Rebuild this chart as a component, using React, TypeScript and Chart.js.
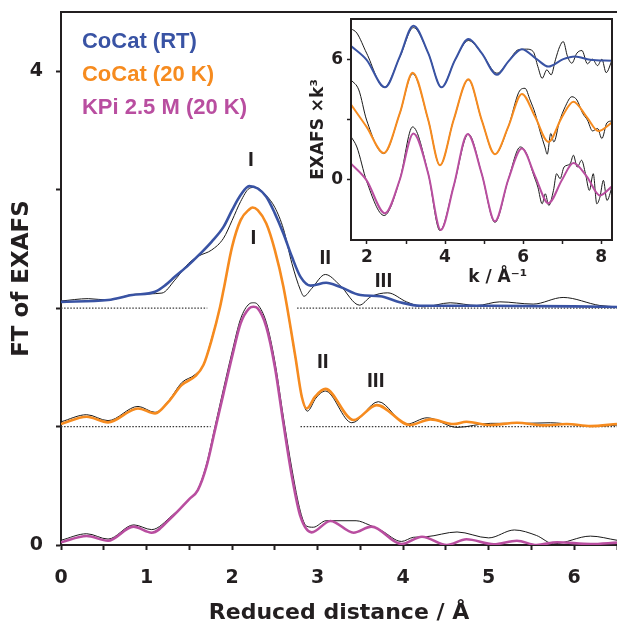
import React, { useEffect, useRef } from 'react';
import { Chart, registerables } from 'chart.js';

Chart.register(...registerables);

type Pair = [number, number];

// ---------- Main panel: FT of EXAFS vs reduced distance (raw, unshifted) ----------
const mainOffsets = { rt: 2, k20: 1, kpi: 0 };

const rtFit: Pair[] = [
  [0, 0.053], [0.55, 0.068], [0.83, 0.11], [1.1, 0.138], [1.22, 0.194], [1.33, 0.264],
  [1.49, 0.363], [1.61, 0.447], [1.76, 0.56], [1.9, 0.686], [2.0, 0.827], [2.1, 0.954],
  [2.2, 1.03], [2.3, 1.01], [2.4, 0.94], [2.5, 0.8], [2.6, 0.63], [2.7, 0.433], [2.8, 0.264],
  [2.92, 0.19], [3.1, 0.214], [3.26, 0.18], [3.5, 0.11], [3.73, 0.1], [3.96, 0.05], [4.2, 0.02],
  [5.0, 0.02], [6.0, 0.015], [6.5, 0.01],
];
const rtData: Pair[] = [
  [0, 0.06], [0.32, 0.08], [0.55, 0.068], [0.87, 0.118], [1.18, 0.127], [1.33, 0.236],
  [1.49, 0.377], [1.61, 0.44], [1.76, 0.49], [1.9, 0.59], [2.0, 0.74], [2.1, 0.9], [2.2, 1.01],
  [2.27, 1.02], [2.4, 0.95], [2.5, 0.85], [2.6, 0.67], [2.7, 0.376], [2.8, 0.151], [2.84, 0.1],
  [2.93, 0.165], [3.09, 0.284], [3.26, 0.194], [3.49, 0.025], [3.62, 0.095], [3.82, 0.129],
  [4.04, 0.053], [4.24, 0.011], [4.55, 0.045], [4.86, 0.022], [5.13, 0.053], [5.52, 0.034],
  [5.87, 0.09], [6.3, 0.022], [6.5, 0.011],
];
const k20Fit: Pair[] = [
  [0, 0.021], [0.3, 0.083], [0.55, 0.035], [0.9, 0.153], [1.1, 0.111], [1.255, 0.209],
  [1.41, 0.35], [1.57, 0.426], [1.665, 0.519], [1.76, 0.73], [1.86, 1.011], [1.9, 1.152],
  [2.0, 1.517], [2.1, 1.743], [2.2, 1.833], [2.24, 1.85], [2.3, 1.827], [2.4, 1.714], [2.5, 1.49],
  [2.6, 1.18], [2.74, 0.589], [2.815, 0.252], [2.873, 0.153], [2.97, 0.252], [3.09, 0.318],
  [3.42, 0.055], [3.69, 0.181], [4.08, 0.013], [4.32, 0.061], [4.59, 0.021], [4.74, 0.04],
  [5.02, 0.013], [5.33, 0.032], [5.64, 0.01], [5.91, 0.021], [6.19, 0.004], [6.5, 0.021],
];
const k20Data: Pair[] = [
  [0, 0.04], [0.3, 0.1], [0.55, 0.05], [0.9, 0.17], [1.1, 0.12], [1.26, 0.22], [1.41, 0.37],
  [1.57, 0.44], [1.67, 0.53], [1.76, 0.74], [1.86, 1.01], [1.9, 1.15], [2.0, 1.517], [2.1, 1.743],
  [2.2, 1.833], [2.24, 1.85], [2.3, 1.827], [2.4, 1.714], [2.5, 1.49], [2.6, 1.18], [2.74, 0.58],
  [2.82, 0.24], [2.88, 0.13], [2.98, 0.24], [3.09, 0.3], [3.4, 0.032], [3.71, 0.21], [4.04, 0.02],
  [4.28, 0.074], [4.63, -0.007], [5.02, 0.027], [5.41, 0.027], [5.72, 0.032], [6.0, 0.015],
  [6.19, 0.0], [6.5, 0.013],
];
const kpiFit: Pair[] = [
  [0, 0.023], [0.3, 0.076], [0.55, 0.036], [0.846, 0.155], [1.06, 0.104], [1.3, 0.239],
  [1.497, 0.386], [1.6, 0.464], [1.7, 0.661], [1.8, 0.97], [1.9, 1.28], [2.0, 1.589], [2.1, 1.871],
  [2.2, 1.997], [2.25, 2.011], [2.3, 1.997], [2.4, 1.842], [2.5, 1.505], [2.6, 1.027], [2.7, 0.577],
  [2.8, 0.239], [2.93, 0.107], [3.15, 0.203], [3.42, 0.104], [3.63, 0.155], [3.98, 0.008],
  [4.22, 0.07], [4.51, 0.0], [4.74, 0.048], [5.06, 0.006], [5.33, 0.036], [5.56, 0.0], [5.8, 0.023],
  [6.19, 0.008], [6.5, 0.02],
];
const kpiData: Pair[] = [
  [0, 0.04], [0.3, 0.095], [0.55, 0.05], [0.85, 0.17], [1.06, 0.13], [1.3, 0.25], [1.5, 0.39],
  [1.6, 0.47], [1.7, 0.68], [1.8, 1.0], [1.9, 1.32], [2.0, 1.63], [2.1, 1.91], [2.2, 2.035],
  [2.25, 2.045], [2.3, 2.03], [2.4, 1.88], [2.5, 1.55], [2.6, 1.08], [2.7, 0.64], [2.8, 0.28],
  [2.87, 0.16], [2.95, 0.15], [3.1, 0.205], [3.45, 0.205], [3.6, 0.17], [3.75, 0.12], [3.98, 0.03],
  [4.12, 0.065], [4.27, 0.07], [4.63, 0.11], [5.0, 0.06], [5.3, 0.127], [5.56, 0.08], [5.76, 0.01],
  [6.19, 0.075], [6.5, 0.04],
];

// baseline (dotted) segments: [from, to] in reduced distance
const rtBaseline: Pair[] = [[0, 1.71], [2.76, 6.5]];
const k20Baseline: Pair[] = [[0, 1.75], [2.8, 6.5]];

// main axis ticks
const mainXTicks = [0, 0.5, 1, 1.5, 2, 2.5, 3, 3.5, 4, 4.5, 5, 5.5, 6, 6.5];
const mainXLabels = [0, 1, 2, 3, 4, 5, 6];
const mainYTicks = [0, 1, 2, 3, 4];
const mainYLabels = [0, 4];

// legend + peak labels
const seriesNames = ['CoCat (RT)', 'CoCat (20 K)', 'KPi 2.5 M (20 K)'];
const seriesColors = ['#3953a4', '#f68b1f', '#b94ea0'];
const peakText = ['I', 'II', 'III', 'I', 'II', 'III'];
const peakR = [2.22, 3.09, 3.77, 2.25, 3.06, 3.68];
const peakY = [3.25, 2.42, 2.23, 2.59, 1.54, 1.38];

// ---------- Inset: EXAFS x k^3 vs k (raw, unshifted) ----------
const insetOffsets = { rt: 6, k20: 3, kpi: 0 };

const kRtFit: Pair[] = [
  [1.59, 0.66], [1.99, -0.03], [2.46, -1.4], [2.84, 0.13], [3.19, 1.67], [3.57, 0.3], [3.91, -1.4],
  [4.26, -0.03], [4.6, 1.0], [4.94, 0.3], [5.33, -0.78], [5.62, -0.12], [5.97, 0.5], [6.35, 0.0],
  [6.65, -0.37], [7.03, 0.0], [7.33, 0.13], [7.72, -0.03], [8.28, -0.08],
];
const kRtData: Pair[] = [
  [1.59, 1.52], [1.74, 1.3], [1.99, 0.3], [2.44, -1.4], [2.84, 0.1], [3.19, 1.57], [3.57, 0.3],
  [3.91, -1.4], [4.26, -0.03], [4.6, 0.93], [4.94, 0.3], [5.33, -0.7], [5.62, -0.12], [5.88, 0.47],
  [6.09, 0.5], [6.26, 0.38], [6.38, -0.37], [6.49, -0.95], [6.61, -0.53], [6.72, -0.78],
  [6.83, -0.03], [6.94, 0.63], [7.03, 0.88], [7.14, 0.13], [7.25, -0.2], [7.38, 0.3], [7.51, 0.43],
  [7.65, -0.23], [7.78, 0.0], [7.91, -0.32], [8.02, 0.0], [8.13, -0.67], [8.28, -0.05],
];
const kK20Fit: Pair[] = [
  [1.59, 0.74], [1.99, -0.37], [2.43, -1.67], [2.84, 0.3], [3.17, 2.33], [3.57, -0.03], [3.87, -2.28],
  [4.22, -0.03], [4.6, 2.0], [4.94, -0.03], [5.28, -1.73], [5.62, -0.37], [5.97, 1.27], [6.31, 0.13],
  [6.65, -1.12], [7.0, 0.13], [7.29, 0.88], [7.63, 0.13], [7.93, -0.58], [8.28, -0.15],
];
const kK20Data: Pair[] = [
  [1.59, 1.97], [1.79, 1.47], [1.99, -0.03], [2.43, -1.7], [2.84, 0.3], [3.17, 2.27], [3.57, -0.03],
  [3.87, -2.28], [4.22, -0.03], [4.6, 1.97], [4.94, -0.03], [5.28, -1.73], [5.62, -0.37], [5.93, 1.47],
  [6.05, 1.55], [6.18, 0.97], [6.31, 0.3], [6.44, -0.62], [6.56, -1.37], [6.62, -1.73], [6.71, -0.7],
  [6.79, -1.12], [6.93, -0.12], [7.08, 0.63], [7.25, 1.13], [7.38, 0.97], [7.53, 0.3], [7.65, -0.03],
  [7.78, -0.57], [7.91, -0.45], [8.02, -0.95], [8.15, -0.17], [8.28, -0.07],
];
const kKpiFit: Pair[] = [
  [1.59, 0.8], [1.99, -0.03], [2.46, -1.67], [2.84, 0.0], [3.19, 2.3], [3.57, 0.3], [3.89, -2.5],
  [4.22, -0.33], [4.58, 2.27], [4.94, 0.3], [5.28, -2.07], [5.62, 0.0], [5.97, 1.55], [6.31, 0.17],
  [6.65, -1.17], [7.0, 0.0], [7.29, 0.83], [7.63, 0.17], [7.97, -0.78], [8.28, -0.33],
];
const kKpiData: Pair[] = [
  [1.59, 2.15], [1.74, 1.63], [1.99, -0.07], [2.44, -1.78], [2.84, 0.0], [3.17, 2.63], [3.57, 0.3],
  [3.87, -2.53], [4.22, -0.33], [4.6, 2.27], [4.94, 0.3], [5.28, -2.12], [5.62, 0.0], [5.93, 1.63],
  [6.09, 1.3], [6.26, 0.3], [6.38, -0.37], [6.49, -1.2], [6.57, -0.7], [6.66, -1.28], [6.78, -0.53],
  [6.86, 0.3], [6.95, 0.05], [7.05, 0.63], [7.21, 0.8], [7.29, 1.22], [7.39, 0.63], [7.5, 0.97],
  [7.6, 0.3], [7.7, -0.53], [7.8, 0.3], [7.89, -1.2], [7.97, -0.87], [8.06, -0.03], [8.15, -1.03],
  [8.28, -0.37],
];

const insetXTicks = [2, 3, 4, 5, 6, 7, 8];
const insetXLabels = [2, 4, 6, 8];
const insetYTicks = [0, 3, 6];
const insetYLabels = [0, 6];

// ---------- helpers ----------
const INK = '#231f20';
const SANS = "'DejaVu Sans', sans-serif";
const HELV = "'Liberation Sans', Arial, sans-serif";

const shift = (pts: Pair[], off: number) => pts.map(([x, y]) => ({ x, y: y + off }));

const lineDs = (label: string, pts: Pair[], off: number, color: string, width: number, order: number) => ({
  label,
  data: shift(pts, off),
  borderColor: color,
  borderWidth: width,
  pointRadius: 0,
  fill: false,
  cubicInterpolationMode: 'monotone' as const,
  order,
});

const dottedDs = (segs: Pair[], level: number) =>
  segs.map(([a, b]) => ({
    label: 'baseline',
    data: [{ x: a, y: level }, { x: b, y: level }],
    borderColor: '#3a3a3a',
    borderWidth: 1.3,
    borderDash: [1.5, 1.6],
    pointRadius: 0,
    fill: false,
    order: 3,
  }));

const setTicks = (values: number[]) => (s: any) => {
  s.ticks = values.map((value) => ({ value }));
};
const fixSize = (prop: 'width' | 'height', size: number) => (s: any) => {
  s[prop] = size;
  s.paddingTop = 0;
  s.paddingBottom = 0;
  s.paddingLeft = 0;
  s.paddingRight = 0;
};

const mainDecor = {
  id: 'mainDecor',
  afterDraw(chart: any) {
    const { ctx, chartArea, scales } = chart;
    ctx.save();
    // top frame line
    ctx.strokeStyle = INK;
    ctx.lineWidth = 2;
    ctx.beginPath();
    ctx.moveTo(chartArea.left - 1, chartArea.top);
    ctx.lineTo(chartArea.right, chartArea.top);
    ctx.stroke();
    // legend text
    ctx.font = `bold 22px ${HELV}`;
    ctx.textAlign = 'left';
    ctx.textBaseline = 'alphabetic';
    const legendX = scales.x.getPixelForValue(0.245);
    seriesNames.forEach((name, i) => {
      ctx.fillStyle = seriesColors[i];
      ctx.fillText(name, legendX, scales.y.getPixelForValue(4.193 - i * 0.275));
    });
    // peak labels
    ctx.fillStyle = INK;
    ctx.font = `bold 21px ${HELV}`;
    ctx.textAlign = 'center';
    ctx.textBaseline = 'middle';
    peakText.forEach((t, i) => {
      ctx.fillText(t, scales.x.getPixelForValue(peakR[i]), scales.y.getPixelForValue(peakY[i]));
    });
    ctx.restore();
  },
};

const insetDecor = {
  id: 'insetDecor',
  beforeDatasetsDraw(chart: any) {
    const { ctx, chartArea } = chart;
    ctx.save();
    ctx.fillStyle = '#ffffff';
    ctx.fillRect(chartArea.left, chartArea.top, chartArea.right - chartArea.left, chartArea.bottom - chartArea.top);
    ctx.restore();
  },
  afterDraw(chart: any) {
    const { ctx, chartArea, scales } = chart;
    ctx.save();
    ctx.strokeStyle = INK;
    ctx.lineWidth = 2;
    ctx.strokeRect(chartArea.left, chartArea.top, chartArea.right - chartArea.left, chartArea.bottom - chartArea.top);
    ctx.fillStyle = INK;
    ctx.font = `bold 17px ${SANS}`;
    ctx.textAlign = 'center';
    ctx.textBaseline = 'middle';
    ctx.fillText('k / Å⁻¹', scales.x.getPixelForValue(5.35), chartArea.bottom + 38);
    ctx.restore();
  },
};

function MainChart() {
  const ref = useRef<HTMLCanvasElement>(null);
  useEffect(() => {
    if (!ref.current) return;
    const datasets: any[] = [
      lineDs(seriesNames[0], rtFit, mainOffsets.rt, seriesColors[0], 2.6, 0),
      lineDs(seriesNames[1], k20Fit, mainOffsets.k20, seriesColors[1], 2.6, 0),
      lineDs(seriesNames[2], kpiFit, mainOffsets.kpi, seriesColors[2], 2.6, 0),
      lineDs('RT data', rtData, mainOffsets.rt, '#1a1a1a', 1, 1),
      lineDs('20 K data', k20Data, mainOffsets.k20, '#1a1a1a', 1, 1),
      lineDs('KPi data', kpiData, mainOffsets.kpi, '#1a1a1a', 1, 1),
      ...dottedDs(rtBaseline, mainOffsets.rt),
      ...dottedDs(k20Baseline, mainOffsets.k20),
    ];
    const chart = new Chart(ref.current, {
      type: 'line',
      data: { datasets },
      plugins: [mainDecor],
      options: {
        responsive: false,
        animation: false,
        layout: { padding: { top: 12, right: 0, left: 0, bottom: 0 } },
        plugins: { legend: { display: false }, tooltip: { enabled: false } },
        scales: {
          x: {
            type: 'linear',
            min: 0,
            max: 6.5,
            afterBuildTicks: setTicks(mainXTicks),
            afterFit: fixSize('height', 80),
            ticks: {
              autoSkip: false,
              maxRotation: 0,
              padding: 17,
              color: INK,
              font: { family: SANS, size: 19, weight: 'bold' },
              callback: (v: any) => (mainXLabels.includes(Number(v)) ? String(v) : ''),
            },
            grid: { drawOnChartArea: false, drawTicks: true, tickLength: 5, tickColor: INK, tickWidth: 2 },
            border: { display: true, color: INK, width: 2 },
            title: {
              display: true,
              text: 'Reduced distance / Å',
              color: INK,
              font: { family: SANS, size: 22, weight: 'bold', lineHeight: 1 },
              padding: { top: 0, bottom: 0.5 },
            },
          },
          y: {
            type: 'linear',
            min: 0,
            max: 4.5,
            afterBuildTicks: setTicks(mainYTicks),
            afterFit: fixSize('width', 61),
            ticks: {
              autoSkip: false,
              padding: 13,
              color: INK,
              font: { family: SANS, size: 19, weight: 'bold' },
              callback: (v: any) => (mainYLabels.includes(Number(v)) ? String(v) : ''),
            },
            grid: { drawOnChartArea: false, drawTicks: true, tickLength: 5, tickColor: INK, tickWidth: 2 },
            border: { display: true, color: INK, width: 2 },
            title: {
              display: true,
              text: 'FT of EXAFS',
              color: INK,
              font: { family: SANS, size: 23, weight: 'bold', lineHeight: 1.2 },
              padding: { top: 8, bottom: 0 },
            },
          },
        },
      } as any,
    });
    return () => chart.destroy();
  }, []);
  return <canvas ref={ref} width={617} height={625} style={{ position: 'absolute', left: 0, top: 0 }} />;
}

function InsetChart() {
  const ref = useRef<HTMLCanvasElement>(null);
  useEffect(() => {
    if (!ref.current) return;
    const datasets: any[] = [
      lineDs(seriesNames[0], kRtFit, insetOffsets.rt, seriesColors[0], 2, 0),
      lineDs(seriesNames[1], kK20Fit, insetOffsets.k20, seriesColors[1], 2, 0),
      lineDs(seriesNames[2], kKpiFit, insetOffsets.kpi, seriesColors[2], 2, 0),
      lineDs('RT data', kRtData, insetOffsets.rt, '#1a1a1a', 1, 1),
      lineDs('20 K data', kK20Data, insetOffsets.k20, '#1a1a1a', 1, 1),
      lineDs('KPi data', kKpiData, insetOffsets.kpi, '#1a1a1a', 1, 1),
    ];
    const chart = new Chart(ref.current, {
      type: 'line',
      data: { datasets },
      plugins: [insetDecor],
      options: {
        responsive: false,
        animation: false,
        layout: { padding: { top: 19, right: 5, left: 0, bottom: 0 } },
        plugins: { legend: { display: false }, tooltip: { enabled: false } },
        scales: {
          x: {
            type: 'linear',
            min: 1.59,
            max: 8.28,
            afterBuildTicks: setTicks(insetXTicks),
            afterFit: fixSize('height', 60),
            ticks: {
              autoSkip: false,
              maxRotation: 0,
              padding: 3,
              color: INK,
              font: { family: SANS, size: 17, weight: 'bold' },
              callback: (v: any) => (insetXLabels.includes(Number(v)) ? String(v) : ''),
            },
            grid: { drawOnChartArea: false, drawTicks: true, tickLength: 4, tickColor: INK, tickWidth: 1.5 },
            border: { display: true, color: INK, width: 2 },
          },
          y: {
            type: 'linear',
            min: -3,
            max: 8,
            afterBuildTicks: setTicks(insetYTicks),
            afterFit: fixSize('width', 61),
            ticks: {
              autoSkip: false,
              padding: 4,
              color: INK,
              font: { family: SANS, size: 17, weight: 'bold' },
              callback: (v: any) => (insetYLabels.includes(Number(v)) ? String(v) : ''),
            },
            grid: { drawOnChartArea: false, drawTicks: true, tickLength: 4, tickColor: INK, tickWidth: 1.5 },
            border: { display: true, color: INK, width: 2 },
            title: {
              display: true,
              text: 'EXAFS ×k³',
              color: INK,
              font: { family: SANS, size: 17, weight: 'bold', lineHeight: 1.2 },
              padding: { top: 18, bottom: 0 },
            },
          },
        },
      } as any,
    });
    return () => chart.destroy();
  }, []);
  return <canvas ref={ref} width={327} height={300} style={{ position: 'absolute', left: 290, top: 0 }} />;
}

export default function App() {
  return (
    <div style={{ position: 'absolute', left: 0, top: 0, width: 617, height: 625, background: '#ffffff' }}>
      <MainChart />
      <InsetChart />
    </div>
  );
}
